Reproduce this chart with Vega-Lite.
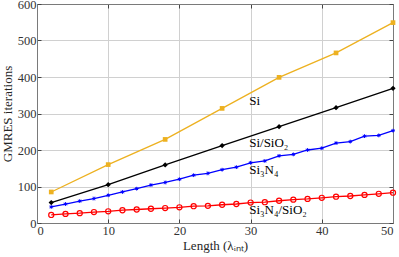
{
  "$schema": "https://vega.github.io/schema/vega-lite/v6.json",
  "width": 356,
  "height": 219,
  "autosize": "none",
  "padding": {"left": 37, "top": 4, "right": 6, "bottom": 34},
  "background": "white",
  "config": {
    "view": {"stroke": "#7a7a7a", "strokeWidth": 1},
    "font": "Liberation Serif",
    "axis": {
      "labelFont": "Liberation Serif",
      "titleFont": "Liberation Serif",
      "labelFontSize": 12.5,
      "titleFontSize": 13,
      "titleFontWeight": "normal",
      "labelColor": "#333333",
      "titleColor": "#262626",
      "domainColor": "#7a7a7a",
      "domainWidth": 1,
      "tickColor": "#444444",
      "tickWidth": 1,
      "tickSize": -4,
      "gridColor": "#d0d0d0",
      "gridWidth": 1,
      "gridOpacity": 1,
      "labelPadding": 5
    }
  },
  "datasets": {
    "series": [
      {"s": "Si", "x": 2, "y": 85}, {"s": "Si", "x": 10, "y": 160}, {"s": "Si", "x": 18, "y": 229}, {"s": "Si", "x": 26, "y": 314}, {"s": "Si", "x": 34, "y": 399}, {"s": "Si", "x": 42, "y": 466}, {"s": "Si", "x": 50, "y": 549},
      {"s": "SiSiO2", "x": 2, "y": 56}, {"s": "SiSiO2", "x": 10, "y": 105}, {"s": "SiSiO2", "x": 18, "y": 159}, {"s": "SiSiO2", "x": 26, "y": 212}, {"s": "SiSiO2", "x": 34, "y": 264}, {"s": "SiSiO2", "x": 42, "y": 316}, {"s": "SiSiO2", "x": 50, "y": 369},
      {"s": "Si3N4", "x": 2, "y": 44}, {"s": "Si3N4", "x": 4, "y": 52}, {"s": "Si3N4", "x": 6, "y": 60}, {"s": "Si3N4", "x": 8, "y": 67}, {"s": "Si3N4", "x": 10, "y": 76}, {"s": "Si3N4", "x": 12, "y": 85}, {"s": "Si3N4", "x": 14, "y": 94}, {"s": "Si3N4", "x": 16, "y": 104}, {"s": "Si3N4", "x": 18, "y": 111}, {"s": "Si3N4", "x": 20, "y": 120}, {"s": "Si3N4", "x": 22, "y": 131}, {"s": "Si3N4", "x": 24, "y": 136}, {"s": "Si3N4", "x": 26, "y": 146}, {"s": "Si3N4", "x": 28, "y": 153}, {"s": "Si3N4", "x": 30, "y": 165}, {"s": "Si3N4", "x": 32, "y": 170}, {"s": "Si3N4", "x": 34, "y": 184}, {"s": "Si3N4", "x": 36, "y": 188}, {"s": "Si3N4", "x": 38, "y": 200}, {"s": "Si3N4", "x": 40, "y": 205}, {"s": "Si3N4", "x": 42, "y": 219}, {"s": "Si3N4", "x": 44, "y": 223}, {"s": "Si3N4", "x": 46, "y": 238}, {"s": "Si3N4", "x": 48, "y": 240}, {"s": "Si3N4", "x": 50, "y": 253},
      {"s": "Si3N4SiO2", "x": 2, "y": 22}, {"s": "Si3N4SiO2", "x": 4, "y": 25}, {"s": "Si3N4SiO2", "x": 6, "y": 27}, {"s": "Si3N4SiO2", "x": 8, "y": 30}, {"s": "Si3N4SiO2", "x": 10, "y": 32}, {"s": "Si3N4SiO2", "x": 12, "y": 35}, {"s": "Si3N4SiO2", "x": 14, "y": 37}, {"s": "Si3N4SiO2", "x": 16, "y": 39}, {"s": "Si3N4SiO2", "x": 18, "y": 41}, {"s": "Si3N4SiO2", "x": 20, "y": 43}, {"s": "Si3N4SiO2", "x": 22, "y": 46}, {"s": "Si3N4SiO2", "x": 24, "y": 47}, {"s": "Si3N4SiO2", "x": 26, "y": 50}, {"s": "Si3N4SiO2", "x": 28, "y": 52}, {"s": "Si3N4SiO2", "x": 30, "y": 56}, {"s": "Si3N4SiO2", "x": 32, "y": 57}, {"s": "Si3N4SiO2", "x": 34, "y": 61}, {"s": "Si3N4SiO2", "x": 36, "y": 64}, {"s": "Si3N4SiO2", "x": 38, "y": 66}, {"s": "Si3N4SiO2", "x": 40, "y": 69}, {"s": "Si3N4SiO2", "x": 42, "y": 72}, {"s": "Si3N4SiO2", "x": 44, "y": 74}, {"s": "Si3N4SiO2", "x": 46, "y": 77}, {"s": "Si3N4SiO2", "x": 48, "y": 80}, {"s": "Si3N4SiO2", "x": 50, "y": 83}
    ],
    "labels": [
      {"label": "Si", "x": 29.8, "y": 334},
      {"label": "Si/SiO₂", "x": 29.8, "y": 219},
      {"label": "Si₃N₄", "x": 29.8, "y": 145},
      {"label": "Si₃N₄/SiO₂", "x": 29.8, "y": 35}
    ]
  },
  "data": {"name": "series"},
  "resolve": {"axis": {"x": "independent", "y": "independent"}},
  "layer": [
    {
      "mark": {"type": "line", "strokeWidth": 1.3},
      "encoding": {
        "x": {"field": "x", "type": "quantitative", "scale": {"domain": [0, 50], "nice": false}, "axis": {"values": [0, 10, 20, 30, 40, 50], "title": "Length (λᵢₙₜ)", "titlePadding": 3, "grid": true}},
        "y": {"field": "y", "type": "quantitative", "scale": {"domain": [0, 600], "nice": false}, "axis": {"values": [0, 100, 200, 300, 400, 500, 600], "title": "GMRES iterations", "titleX": -30, "titleBaseline": "middle", "grid": true}},
        "color": {"field": "s", "type": "nominal", "legend": null, "scale": {"domain": ["Si", "SiSiO2", "Si3N4", "Si3N4SiO2"], "range": ["#EDB120", "#000000", "#0000FF", "#FF0000"]}}
      }
    },
    {
      "data": {"values": [{"x": 0, "y": 0}]},
      "mark": {"type": "point", "opacity": 0},
      "encoding": {
        "x": {"field": "x", "type": "quantitative", "axis": {"orient": "top", "values": [0, 10, 20, 30, 40, 50], "labels": false, "title": null, "grid": false}},
        "y": {"field": "y", "type": "quantitative", "axis": {"orient": "right", "values": [0, 100, 200, 300, 400, 500, 600], "labels": false, "title": null, "grid": false}}
      }
    },
    {
      "transform": [{"filter": "datum.s === 'Si'"}],
      "mark": {"type": "point", "shape": "square", "filled": true, "size": 22, "color": "#EDB120", "opacity": 1},
      "encoding": {"x": {"field": "x", "type": "quantitative", "axis": null}, "y": {"field": "y", "type": "quantitative", "axis": null}}
    },
    {
      "transform": [{"filter": "datum.s === 'SiSiO2'"}],
      "mark": {"type": "point", "shape": "diamond", "filled": true, "size": 28, "color": "#000000", "opacity": 1},
      "encoding": {"x": {"field": "x", "type": "quantitative", "axis": null}, "y": {"field": "y", "type": "quantitative", "axis": null}}
    },
    {
      "transform": [{"filter": "datum.s === 'Si3N4'"}],
      "mark": {"type": "point", "shape": "M-1,0L1,0M0,-1L0,1M-0.7,-0.7L0.7,0.7M-0.7,0.7L0.7,-0.7", "filled": false, "size": 14, "strokeWidth": 1, "color": "#0000FF", "opacity": 1},
      "encoding": {"x": {"field": "x", "type": "quantitative", "axis": null}, "y": {"field": "y", "type": "quantitative", "axis": null}}
    },
    {
      "transform": [{"filter": "datum.s === 'Si3N4SiO2'"}],
      "mark": {"type": "point", "shape": "circle", "filled": false, "size": 26, "strokeWidth": 1.2, "color": "#FF0000", "opacity": 1},
      "encoding": {"x": {"field": "x", "type": "quantitative", "axis": null}, "y": {"field": "y", "type": "quantitative", "axis": null}}
    },
    {
      "data": {"name": "labels"},
      "mark": {"type": "text", "align": "left", "baseline": "middle", "font": "Liberation Serif", "fontSize": 13, "color": "#000000"},
      "encoding": {"x": {"field": "x", "type": "quantitative", "axis": null}, "y": {"field": "y", "type": "quantitative", "axis": null}, "text": {"field": "label"}}
    }
  ]
}
